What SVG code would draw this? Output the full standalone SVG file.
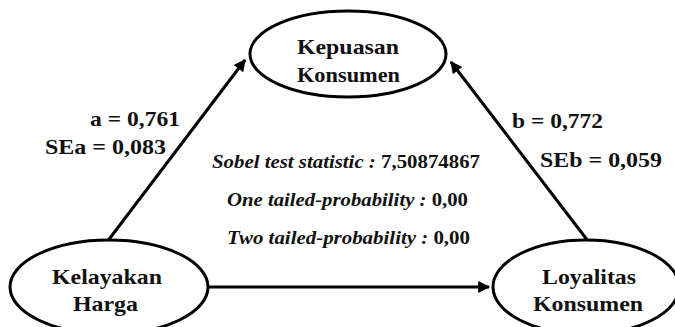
<svg xmlns="http://www.w3.org/2000/svg" width="675" height="327" viewBox="0 0 675 327">
  <defs>
    <marker id="arrow" viewBox="0 0 10 10" refX="9" refY="5" markerWidth="4.5" markerHeight="4" markerUnits="strokeWidth" orient="auto">
      <path d="M0,0 L10,5 L0,10 Z" fill="#000"/>
    </marker>
    <style>
      .node { fill: #fff; stroke: #000; stroke-width: 3; }
      .link { stroke: #000; stroke-width: 3; fill: none; marker-end: url(#arrow); }
      .lbl { font-weight: bold; font-size: 21px; fill: #111; }
      .stat { font-weight: bold; font-size: 19.5px; fill: #111; }
      .it { font-style: italic; }
    </style>
  </defs>
  <rect width="675" height="327" fill="#fff"/>

  <g id="connectors">
    <line class="link" x1="107" y1="242" x2="245" y2="60"/>
    <line class="link" x1="588" y1="241" x2="451" y2="62"/>
    <line class="link" x1="209" y1="287" x2="489" y2="287"/>
  </g>

  <g id="kepuasan" font-family="Liberation Serif">
    <ellipse class="node" cx="348" cy="54" rx="98" ry="43"/>
    <text class="lbl" x="297" y="54" textLength="102" lengthAdjust="spacingAndGlyphs">Kepuasan</text>
    <text class="lbl" x="297" y="82" textLength="103" lengthAdjust="spacingAndGlyphs">Konsumen</text>
  </g>

  <g id="kelayakan" font-family="Liberation Serif">
    <ellipse class="node" cx="109" cy="287" rx="99" ry="47"/>
    <text class="lbl" x="52" y="284" textLength="110" lengthAdjust="spacingAndGlyphs">Kelayakan</text>
    <text class="lbl" x="73" y="311" textLength="65" lengthAdjust="spacingAndGlyphs">Harga</text>
  </g>

  <g id="loyalitas" font-family="Liberation Serif">
    <ellipse class="node" cx="586" cy="287" rx="93" ry="47"/>
    <text class="lbl" x="542" y="284" textLength="94" lengthAdjust="spacingAndGlyphs">Loyalitas</text>
    <text class="lbl" x="533" y="311" textLength="110" lengthAdjust="spacingAndGlyphs">Konsumen</text>
  </g>

  <g id="path-labels" font-family="Liberation Serif">
    <text class="lbl" x="90" y="126" textLength="90" lengthAdjust="spacingAndGlyphs">a = 0,761</text>
    <text class="lbl" x="45" y="154" textLength="121" lengthAdjust="spacingAndGlyphs">SEa = 0,083</text>
    <text class="lbl" x="512" y="128" textLength="91" lengthAdjust="spacingAndGlyphs">b = 0,772</text>
    <text class="lbl" x="540" y="167" textLength="122" lengthAdjust="spacingAndGlyphs">SEb = 0,059</text>
  </g>

  <g id="sobel" font-family="Liberation Serif">
    <text class="stat" x="212" y="168" textLength="268" lengthAdjust="spacingAndGlyphs"><tspan class="it">Sobel test statistic :</tspan> 7,50874867</text>
    <text class="stat" x="227" y="206" textLength="241" lengthAdjust="spacingAndGlyphs"><tspan class="it">One tailed-probability :</tspan> 0,00</text>
    <text class="stat" x="227" y="244" textLength="243" lengthAdjust="spacingAndGlyphs"><tspan class="it">Two tailed-probability :</tspan> 0,00</text>
  </g>
</svg>
